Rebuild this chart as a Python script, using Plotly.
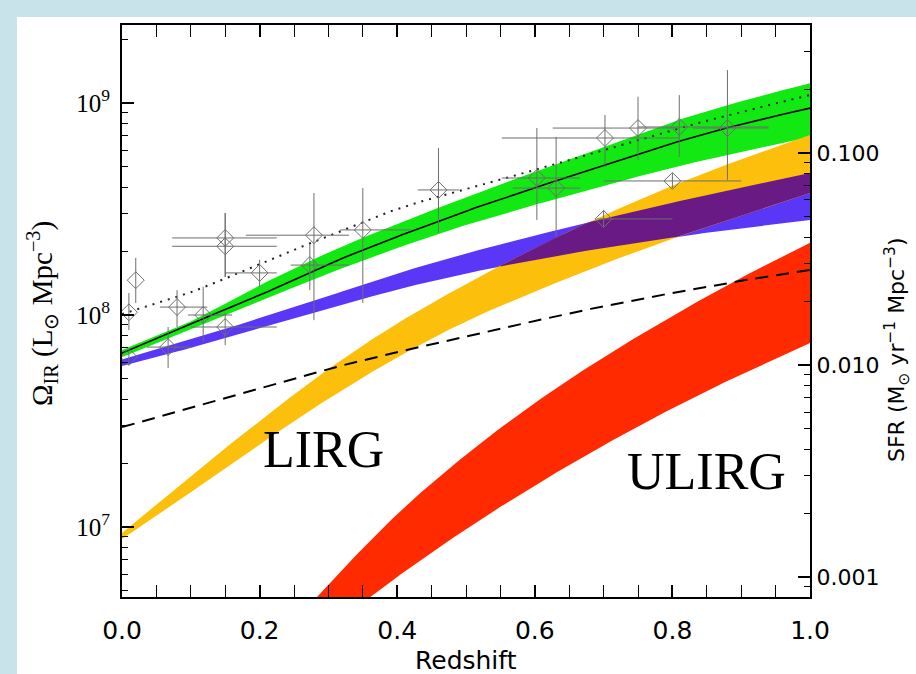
import numpy as np
import plotly.graph_objects as go

# ---------------- data ----------------
z = [0.0, 0.1, 0.2, 0.3, 0.4, 0.5, 0.6, 0.7, 0.8, 0.9, 1.0]

total_hi = [6.84e7, 9.33e7, 1.38e8, 1.97e8, 2.69e8, 3.59e8, 4.73e8, 6.17e8, 8.13e8, 1.02e9, 1.24e9]
total_lo = [6.34e7, 8.51e7, 1.16e8, 1.57e8, 2.07e8, 2.66e8, 3.31e8, 4.07e8, 4.95e8, 5.89e8, 6.92e8]
total_mid = [6.62e7, 9.12e7, 1.24e8, 1.74e8, 2.34e8, 3.09e8, 3.98e8, 5.07e8, 6.46e8, 7.94e8, 9.46e8]
dotted = [1.01e8, 1.28e8, 1.74e8, 2.36e8, 3.16e8, 3.93e8, 4.83e8, 6.00e8, 7.46e8, 9.08e8, 1.09e9]

normal_hi = [6.17e7, 7.67e7, 9.66e7, 1.23e8, 1.57e8, 1.95e8, 2.37e8, 2.85e8, 3.39e8, 3.98e8, 4.68e8]
normal_lo = [5.75e7, 7.00e7, 8.61e7, 1.07e8, 1.32e8, 1.57e8, 1.82e8, 2.07e8, 2.32e8, 2.57e8, 2.81e8]

lirg_hi = [9.38e6, 1.74e7, 3.16e7, 5.56e7, 9.12e7, 1.40e8, 2.07e8, 2.95e8, 4.07e8, 5.43e8, 7.06e8]
lirg_lo = [8.77e6, 1.46e7, 2.45e7, 4.03e7, 6.31e7, 9.33e7, 1.29e8, 1.74e8, 2.29e8, 2.95e8, 3.76e8]

z_ulirg = [0.2, 0.3, 0.4, 0.5, 0.6, 0.7, 0.8, 0.9, 1.0]
ulirg_hi = [2.40e6, 5.37e6, 1.15e7, 2.19e7, 3.85e7, 6.31e7, 9.89e7, 1.50e8, 2.19e8]
ulirg_lo = [1.86e6, 3.31e6, 5.82e6, 9.77e6, 1.57e7, 2.43e7, 3.63e7, 5.25e7, 7.38e7]

dashed = [2.96e7, 3.64e7, 4.48e7, 5.56e7, 6.68e7, 7.87e7, 9.38e7, 1.10e8, 1.27e8, 1.45e8, 1.63e8]

# measurements: redshift, value, upper, lower, z_min, z_max
pt_z = [0.01, 0.01, 0.02, 0.067, 0.08, 0.118, 0.15, 0.15, 0.15, 0.20, 0.279, 0.273,
        0.35, 0.46, 0.603, 0.631, 0.702, 0.75, 0.81, 0.88, 0.80, 0.70]
pt_v = [6.34e7, 1.03e8, 1.46e8, 7.06e7, 1.09e8, 1.00e8, 2.31e8, 2.11e8, 8.78e7, 1.58e8, 2.38e8, 1.72e8,
        2.52e8, 3.89e8, 4.43e8, 3.97e8, 6.84e8, 7.62e8, 7.71e8, 7.62e8, 4.29e8, 2.84e8]
pt_up = [6.92e7, 1.27e8, 1.86e8, 8.78e7, 1.31e8, 1.36e8, 3.03e8, 3.03e8, 1.02e8, 1.82e8, 3.76e8, 2.14e8,
         3.97e8, 6.14e8, 7.62e8, 6.92e8, 8.78e8, 1.07e9, 1.09e9, 1.43e9, 4.68e8, 3.13e8]
pt_dn = [5.81e7, 8.49e7, 1.14e8, 5.62e7, 8.78e7, 7.46e7, 1.51e8, 1.51e8, 7.21e7, 1.36e8, 9.46e7, 1.31e8,
         1.14e8, 2.44e8, 2.81e8, 2.33e8, 4.99e8, 5.38e8, 5.56e8, 4.34e8, 3.97e8, 2.60e8]
pt_zmin = [0.01, 0.01, 0.02, 0.036, 0.055, 0.096, 0.073, 0.073, 0.10, 0.15, 0.18, 0.245,
           0.317, 0.43, 0.552, 0.568, 0.552, 0.626, 0.75, 0.83, 0.70, 0.69]
pt_zmax = [0.01, 0.01, 0.02, 0.102, 0.124, 0.16, 0.225, 0.225, 0.225, 0.225, 0.33, 0.33,
           0.42, 0.49, 0.666, 0.666, 0.81, 0.81, 0.94, 0.94, 0.90, 0.80]

SFR_PER_LIR = 1.72e-10  # Kennicutt conversion for the right-hand axis

x_ticks = [0.0, 0.2, 0.4, 0.6, 0.8, 1.0]
x_ticktext = ["0.0", "0.2", "0.4", "0.6", "0.8", "1.0"]
y_ticks = [1e7, 1e8, 1e9]
y_ticktext = ["10<sup>7</sup>", "10<sup>8</sup>", "10<sup>9</sup>"]
sfr_ticks = [0.001, 0.01, 0.1]
sfr_ticktext = ["0.001", "0.010", "0.100"]

# ---------------- colours ----------------
C_GREEN = "#12e812"
C_BLUE = "#5a36f7"
C_ORANGE = "#fbbf0c"
C_PURPLE = "#6a1a84"
C_RED = "#ff2a00"
C_BG = "#c8e4ea"
C_PT = "#6e6e6e"


def smooth(xs, vals, n=16):
    """Catmull-Rom curve through the points (in log space) for drawing."""
    x = np.asarray(xs, float)
    y = np.log10(np.asarray(vals, float))
    xp = np.concatenate([[2 * x[0] - x[1]], x, [2 * x[-1] - x[-2]]])
    yp = np.concatenate([[2 * y[0] - y[1]], y, [2 * y[-1] - y[-2]]])
    ox, oy = [], []
    t = np.linspace(0, 1, n, endpoint=False)
    for i in range(1, len(xp) - 2):
        p0, p1, p2, p3 = yp[i - 1:i + 3]
        oy.append(0.5 * (2 * p1 + (-p0 + p2) * t + (2 * p0 - 5 * p1 + 4 * p2 - p3) * t ** 2
                         + (-p0 + 3 * p1 - 3 * p2 + p3) * t ** 3))
        ox.append(xp[i] + (xp[i + 1] - xp[i]) * t)
    ox.append([x[-1]])
    oy.append([y[-1]])
    return np.concatenate(ox), np.concatenate(oy)


fig = go.Figure()


def band(x, lo, hi, color):
    sx, slo = smooth(x, lo)
    _, shi = smooth(x, hi)
    xs = np.concatenate([sx, sx[::-1]])
    ys = np.concatenate([10 ** shi, (10 ** slo)[::-1]])
    fig.add_trace(go.Scatter(x=xs, y=ys, mode="lines", line=dict(width=0, color=color),
                             fill="toself", fillcolor=color, showlegend=False, hoverinfo="skip"))


def curve(x, v, **line):
    sx, sv = smooth(x, v)
    fig.add_trace(go.Scatter(x=sx, y=10 ** sv, mode="lines", line=line,
                             showlegend=False, hoverinfo="skip"))


band(z, total_lo, total_hi, C_GREEN)
band(z, normal_lo, normal_hi, C_BLUE)
band(z, lirg_lo, lirg_hi, C_ORANGE)

# overlap of normal-galaxy and LIRG bands (drawn purple)
zf, n_hi = smooth(z, normal_hi)
_, n_lo = smooth(z, normal_lo)
_, l_hi = smooth(z, lirg_hi)
_, l_lo = smooth(z, lirg_lo)
hi_ov = np.minimum(n_hi, l_hi)
lo_ov = np.maximum(n_lo, l_lo)
m = hi_ov > lo_ov
if m.any():
    xs = np.concatenate([zf[m], zf[m][::-1]])
    ys = np.concatenate([10 ** hi_ov[m], (10 ** lo_ov[m])[::-1]])
    fig.add_trace(go.Scatter(x=xs, y=ys, mode="lines", line=dict(width=0, color=C_PURPLE),
                             fill="toself", fillcolor=C_PURPLE, showlegend=False, hoverinfo="skip"))

band(z_ulirg, ulirg_lo, ulirg_hi, C_RED)

curve(z, dashed, color="black", width=2, dash="13px,8px")
curve(z, dotted, color="#222222", width=2, dash="2px,6px")
curve(z, total_mid, color="black", width=1.6)

pv = np.array(pt_v)
pz = np.array(pt_z)
fig.add_trace(go.Scatter(
    x=pt_z, y=pt_v, mode="markers",
    marker=dict(symbol="diamond-open", size=13, color=C_PT, line=dict(width=1, color=C_PT)),
    error_y=dict(type="data", symmetric=False, array=list(np.array(pt_up) - pv),
                 arrayminus=list(pv - np.array(pt_dn)), color=C_PT, thickness=1, width=0),
    error_x=dict(type="data", symmetric=False, array=list(np.array(pt_zmax) - pz),
                 arrayminus=list(pz - np.array(pt_zmin)), color=C_PT, thickness=1, width=0),
    showlegend=False, hoverinfo="skip"))

# invisible trace to activate the SFR axis
yr = [6.670, 9.368]
fig.add_trace(go.Scatter(x=[0, 1], y=[10 ** yr[0] * SFR_PER_LIR, 10 ** yr[1] * SFR_PER_LIR],
                         yaxis="y2", mode="lines", line=dict(width=0), opacity=0,
                         showlegend=False, hoverinfo="skip"))

minor_left = [m_ * 10 ** e for e in range(6, 10) for m_ in range(2, 10)]
minor_right = [m_ * 10.0 ** e for e in range(-4, 0) for m_ in range(2, 10)]
minor_x = [0.05, 0.1, 0.15, 0.25, 0.3, 0.35, 0.45, 0.5, 0.55, 0.65, 0.7, 0.75, 0.85, 0.9, 0.95]

SANS = "DejaVu Sans, Liberation Sans, Arial, sans-serif"
SERIF = "Liberation Serif, Times New Roman, serif"

fig.update_layout(
    width=916, height=674,
    margin=dict(l=122, r=106, t=25, b=77),
    paper_bgcolor=C_BG, plot_bgcolor="white",
    showlegend=False,
    xaxis=dict(range=[0, 1], tickvals=x_ticks, ticktext=x_ticktext, ticks="inside", ticklen=12,
               tickwidth=1.5, tickcolor="black", showline=True, linecolor="black", linewidth=2,
               mirror="allticks", showgrid=False, zeroline=False, ticklabelstandoff=10,
               tickfont=dict(family=SANS, size=25, color="black"),
               minor=dict(tickvals=minor_x, ticks="inside", ticklen=6, tickwidth=1.2,
                          tickcolor="black", showgrid=False)),
    yaxis=dict(type="log", range=yr, tickvals=y_ticks, ticktext=y_ticktext, ticks="inside",
               ticklen=12, tickwidth=1.5, tickcolor="black", showline=True, linecolor="black",
               linewidth=2, showgrid=False, zeroline=False, ticklabelstandoff=5,
               tickfont=dict(family=SERIF, size=25, color="black"),
               minor=dict(tickvals=minor_left, ticks="inside", ticklen=6, tickwidth=1.2,
                          tickcolor="black", showgrid=False)),
    yaxis2=dict(type="log", overlaying="y", side="right",
                range=[yr[0] + np.log10(SFR_PER_LIR), yr[1] + np.log10(SFR_PER_LIR)],
                tickvals=sfr_ticks, ticktext=sfr_ticktext, ticks="inside", ticklen=12,
                tickwidth=1.5, tickcolor="black", showline=True, linecolor="black", linewidth=2,
                showgrid=False, zeroline=False,
                tickfont=dict(family=SANS, size=22, color="black"),
                minor=dict(tickvals=minor_right, ticks="inside", ticklen=6, tickwidth=1.2,
                           tickcolor="black", showgrid=False)),
    shapes=[dict(type="rect", xref="paper", yref="paper",
                 x0=(17 - 122) / 688, x1=(916 - 122) / 688 + 0.01,
                 y0=(597 - 674) / 572 - 0.01, y1=(597 - 17) / 572,
                 fillcolor="white", line=dict(width=0), layer="below")],
    annotations=[
        dict(text="LIRG", xref="paper", yref="paper", x=(323 - 122) / 688, y=(597 - 449) / 572,
             showarrow=False, xanchor="center", yanchor="middle",
             font=dict(family=SERIF, size=52, color="black")),
        dict(text="ULIRG", xref="paper", yref="paper", x=(706 - 122) / 688, y=(597 - 471) / 572,
             showarrow=False, xanchor="center", yanchor="middle",
             font=dict(family=SERIF, size=52, color="black")),
        dict(text="Redshift", xref="paper", yref="paper", x=0.5, y=(597 - 660) / 572,
             showarrow=False, xanchor="center", yanchor="middle",
             font=dict(family=SANS, size=25, color="black")),
        dict(text="Ω<sub>IR</sub> (L<sub>⊙</sub> Mpc<sup>−3</sup>)", xref="paper", yref="paper",
             x=(42 - 122) / 688, y=(597 - 314) / 572, textangle=-90, showarrow=False,
             xanchor="center", yanchor="middle",
             font=dict(family=SERIF, size=29, color="black")),
        dict(text="SFR (M<sub>⊙</sub> yr<sup>−1</sup> Mpc<sup>−3</sup>)", xref="paper", yref="paper",
             x=(897 - 122) / 688, y=(597 - 350) / 572, textangle=-90, showarrow=False,
             xanchor="center", yanchor="middle",
             font=dict(family=SANS, size=22, color="black")),
    ],
)

fig.write_html("out.html")
